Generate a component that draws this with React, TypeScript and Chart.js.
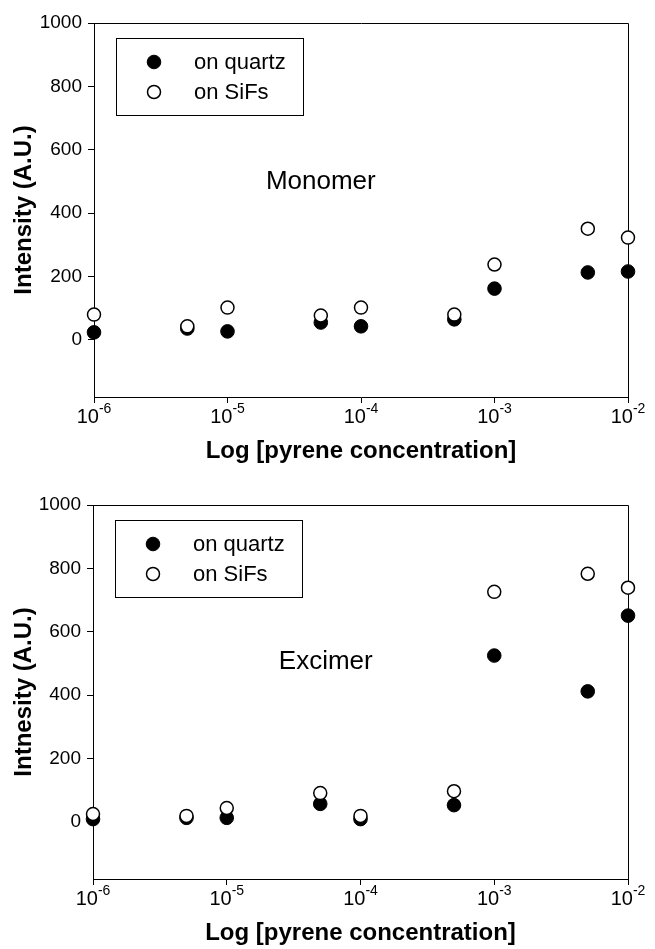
import React, { useEffect, useRef } from 'react';
import { Chart, registerables } from 'chart.js';

Chart.register(...registerables);

// ---- data ----
const concentrations = [1e-6, 5e-6, 1e-5, 5e-5, 1e-4, 5e-4, 1e-3, 5e-3, 1e-2];
const monomerQuartz = [24, 36, 27, 55, 43, 65, 162, 213, 216];
const monomerSiFs = [80, 43, 102, 77, 102, 80, 238, 351, 323];
const excimerQuartz = [9, 13, 13, 57, 9, 53, 525, 412, 651];
const excimerSiFs = [25, 19, 44, 91, 19, 97, 726, 783, 739];
const seriesLabels = ['on quartz', 'on SiFs'];
const yTicks = [0, 200, 400, 600, 800, 1000];
const xTickExponents = [-6, -5, -4, -3, -2];
const panelLabels = ['Monomer', 'Excimer'];
const yTitles = ['Intensity (A.U.)', 'Intnesity (A.U.)'];
const xTitle = 'Log [pyrene concentration]';
const Y_MIN = -180;
const Y_MAX = 1000;

const FONT = '"Liberation Sans", Arial, Helvetica, sans-serif';
const PANEL_LABEL_POS = [
  { x: 5e-5, y: 500 },
  { x: 5.5e-5, y: 505 },
];

function makeDecorPlugin(panelLabel: string, labelPos: { x: number; y: number }) {
  return {
    id: 'decor',
    beforeDatasetsDraw(chart: any) {
      const { ctx, chartArea } = chart;
      const l = Math.round(chartArea.left) + 0.5;
      const t = Math.round(chartArea.top) + 0.5;
      const r = Math.round(chartArea.right) + 0.5;
      const b = Math.round(chartArea.bottom) + 0.5;
      ctx.save();
      ctx.strokeStyle = '#000';
      ctx.lineWidth = 1;
      ctx.beginPath();
      ctx.moveTo(l, t);
      ctx.lineTo(r, t);
      ctx.lineTo(r, b);
      ctx.stroke();
      ctx.restore();
    },
    afterDraw(chart: any) {
      const { ctx, chartArea } = chart;
      const xs = chart.scales.x;
      const ys = chart.scales.y;
      ctx.save();
      ctx.fillStyle = '#000';
      // x tick labels with superscript exponent
      const axisY = chartArea.bottom;
      for (const tk of xs.ticks) {
        const px = xs.getPixelForValue(tk.value);
        const exp = String(Math.round(Math.log10(tk.value)));
        ctx.font = `20px ${FONT}`;
        const wBase = ctx.measureText('10').width;
        ctx.font = `14px ${FONT}`;
        const wExp = ctx.measureText(exp).width;
        const x0 = px - (wBase + wExp) / 2;
        ctx.textBaseline = 'middle';
        ctx.textAlign = 'left';
        ctx.font = `20px ${FONT}`;
        ctx.fillText('10', x0, axisY + 20);
        ctx.font = `14px ${FONT}`;
        ctx.fillText(exp, x0 + wBase, axisY + 12);
      }
      // panel label
      ctx.font = `26px ${FONT}`;
      ctx.textAlign = 'center';
      ctx.textBaseline = 'middle';
      ctx.fillText(panelLabel, xs.getPixelForValue(labelPos.x), ys.getPixelForValue(labelPos.y));
      // legend
      const bx = chartArea.left + 22;
      const by = chartArea.top + 15;
      const bw = 187;
      const bh = 77;
      ctx.fillStyle = '#fff';
      ctx.fillRect(bx, by, bw, bh);
      ctx.strokeStyle = '#000';
      ctx.lineWidth = 1;
      ctx.strokeRect(Math.round(bx) + 0.5, Math.round(by) + 0.5, bw, bh);
      chart.data.datasets
        .slice()
        .sort((a: any, b: any) => a.legendIndex - b.legendIndex)
        .forEach((ds: any, i: number) => {
          const my = by + 24 + i * 30;
          const mx = bx + 38;
          ctx.beginPath();
          ctx.arc(mx, my, ds.pointRadius, 0, Math.PI * 2);
          ctx.fillStyle = ds.pointBackgroundColor;
          ctx.fill();
          ctx.lineWidth = ds.pointBorderWidth;
          ctx.strokeStyle = ds.pointBorderColor;
          ctx.stroke();
          ctx.fillStyle = '#000';
          ctx.font = `22px ${FONT}`;
          ctx.textAlign = 'left';
          ctx.textBaseline = 'middle';
          ctx.fillText(ds.label, bx + 78, my + 1);
        });
      ctx.restore();
    },
  };
}

function Panel(props: {
  quartz: number[];
  sifs: number[];
  label: string;
  labelPos: { x: number; y: number };
  yTitle: string;
  left: number;
}) {
  const ref = useRef<HTMLCanvasElement>(null);
  useEffect(() => {
    if (!ref.current) return;
    const { quartz, sifs, label, labelPos, yTitle, left } = props;
    const gridOpts = {
      display: true,
      drawOnChartArea: false,
      drawTicks: true,
      tickLength: 6,
      color: '#000',
      lineWidth: 1,
    };
    const borderOpts = { display: true, color: '#000', width: 1 };
    const chart = new Chart(ref.current, {
      type: 'scatter',
      data: {
        datasets: [
          {
            label: seriesLabels[0],
            legendIndex: 0,
            data: concentrations.map((x, i) => ({ x, y: quartz[i] })),
            pointRadius: 6.8,
            pointHoverRadius: 6.8,
            pointBorderWidth: 1,
            pointBackgroundColor: '#000',
            pointBorderColor: '#000',
            showLine: false,
            clip: false,
            order: 2,
          } as any,
          {
            label: seriesLabels[1],
            legendIndex: 1,
            data: concentrations.map((x, i) => ({ x, y: sifs[i] })),
            pointRadius: 6.5,
            pointHoverRadius: 6.5,
            pointBorderWidth: 1.5,
            pointBackgroundColor: '#fff',
            pointBorderColor: '#000',
            showLine: false,
            clip: false,
            order: 1,
          } as any,
        ],
      },
      options: {
        animation: false,
        responsive: false,
        events: [],
        layout: { padding: { top: 23, right: 27, left: 0, bottom: 0 } },
        plugins: { legend: { display: false }, tooltip: { enabled: false } },
        scales: {
          x: {
            type: 'logarithmic',
            position: 'bottom',
            min: 1e-6,
            max: 1e-2,
            afterBuildTicks: (s: any) => {
              s.ticks = xTickExponents.map((e) => ({ value: Math.pow(10, e) }));
            },
            afterFit: (s: any) => {
              s.height = 70;
            },
            grid: gridOpts,
            border: borderOpts,
            ticks: { display: false },
            title: {
              display: true,
              text: xTitle,
              color: '#000',
              font: { family: FONT, size: 24, weight: 'bold' },
              padding: { top: 0, bottom: 1 },
            },
          },
          y: {
            type: 'linear',
            min: Y_MIN,
            max: Y_MAX,
            afterBuildTicks: (s: any) => {
              s.ticks = yTicks.map((v) => ({ value: v }));
            },
            afterFit: (s: any) => {
              s.width = left;
            },
            grid: gridOpts,
            border: borderOpts,
            ticks: {
              color: '#000',
              padding: 6,
              font: { family: FONT, size: 19 },
              callback: (v: any) => String(v),
            },
            title: {
              display: true,
              text: yTitle,
              color: '#000',
              font: { family: FONT, size: 24, weight: 'bold' },
              padding: { top: 10, bottom: 0 },
            },
          },
        } as any,
      },
      plugins: [makeDecorPlugin(label, labelPos)],
    } as any);
    return () => chart.destroy();
  }, []);
  return <canvas ref={ref} width={655} height={467} style={{ display: 'block', width: 655, height: 467 }} />;
}

export default function App() {
  return (
    <div style={{ position: 'absolute', left: 0, top: 0, width: 655, height: 949, background: '#fff' }}>
      <div style={{ position: 'absolute', left: 0, top: 0 }}>
        <Panel
          quartz={monomerQuartz}
          sifs={monomerSiFs}
          label={panelLabels[0]}
          labelPos={PANEL_LABEL_POS[0]}
          yTitle={yTitles[0]}
          left={94}
        />
      </div>
      <div style={{ position: 'absolute', left: 0, top: 482 }}>
        <Panel
          quartz={excimerQuartz}
          sifs={excimerSiFs}
          label={panelLabels[1]}
          labelPos={PANEL_LABEL_POS[1]}
          yTitle={yTitles[1]}
          left={93}
        />
      </div>
    </div>
  );
}
